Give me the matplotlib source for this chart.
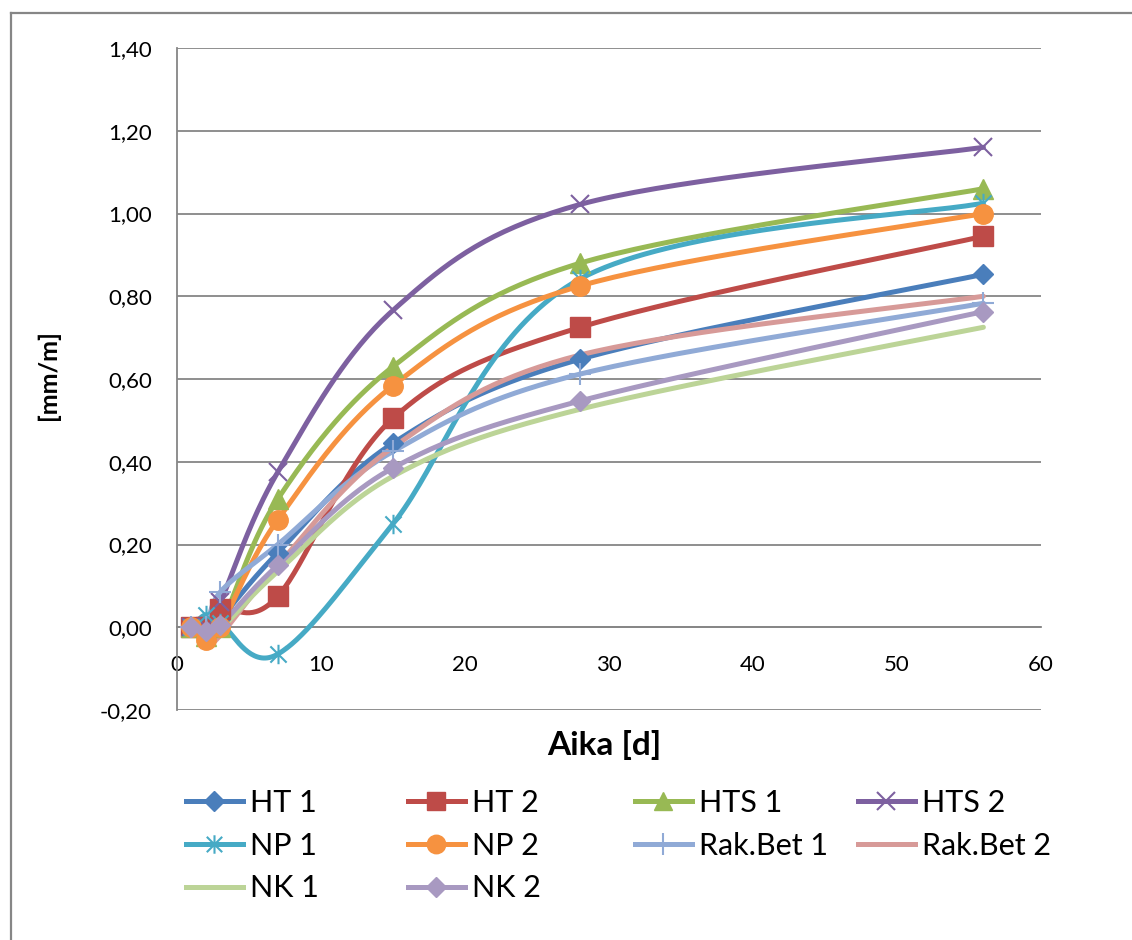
import numpy as np
import matplotlib
matplotlib.use("Agg")
import matplotlib.pyplot as plt
from matplotlib.lines import Line2D
from matplotlib.path import Path

plt.rcParams['font.family'] = ['Lato', 'DejaVu Sans']

# ---- data ----
days = [1, 2, 3, 7, 15, 28, 56]
series_names = ["HT 1", "HT 2", "HTS 1", "HTS 2", "NP 1", "NP 2",
                "Rak.Bet 1", "Rak.Bet 2", "NK 1", "NK 2"]
ht1 = [0.00, -0.01, 0.02, 0.18, 0.445, 0.648, 0.853]
ht2 = [0.00, 0.00, 0.045, 0.075, 0.505, 0.725, 0.945]
hts1 = [0.00, -0.02, 0.00, 0.31, 0.63, 0.88, 1.06]
hts2 = [0.00, 0.00, 0.06, 0.375, 0.766, 1.022, 1.16]
np1 = [0.00, 0.03, 0.01, -0.065, 0.25, 0.842, 1.025]
np2 = [0.00, -0.03, 0.00, 0.26, 0.584, 0.825, 1.00]
rb1 = [0.00, 0.00, 0.085, 0.20, 0.425, 0.612, 0.783]
rb2 = [0.00, -0.04, -0.02, 0.15, 0.435, 0.658, 0.80]
nk1 = [0.00, -0.02, -0.005, 0.135, 0.365, 0.527, 0.725]
nk2 = [0.00, -0.01, 0.005, 0.15, 0.385, 0.547, 0.763]
series_values = [ht1, ht2, hts1, hts2, np1, np2, rb1, rb2, nk1, nk2]

yticks = [-0.2, 0.0, 0.2, 0.4, 0.6, 0.8, 1.0, 1.2, 1.4]
xticks = [0, 10, 20, 30, 40, 50, 60]

# ---- styles ----
colors = ["#4A7EBB", "#BE4B48", "#98B954", "#7D60A0", "#46AAC5", "#F69240",
          "#90AAD6", "#D79A98", "#BCD497", "#A899C1"]
star = Path([(-0.5, -0.5), (0.5, 0.5), (-0.5, 0.5), (0.5, -0.5), (0, -0.6), (0, 0.6)],
            [Path.MOVETO, Path.LINETO, Path.MOVETO, Path.LINETO, Path.MOVETO, Path.LINETO])
markers = [("D", 10.5, 1), ("s", 14, 1), ("^", 14, 1), ("x", 13, 1.5), (star, 14, 1.5),
           ("o", 14, 1), ("+", 16, 1.5), (None, 0, 0), (None, 0, 0), ("D", 10.5, 1)]


def smooth(xs, ys, n=40):
    """Excel-like smoothed line (Catmull-Rom Bezier)."""
    P = np.column_stack([xs, ys]).astype(float)
    out = []
    m = len(P)
    for i in range(m - 1):
        p0 = P[i - 1] if i > 0 else P[i]
        p1, p2 = P[i], P[i + 1]
        p3 = P[i + 2] if i + 2 < m else P[i + 1]
        c1 = p1 + (p2 - p0) / 6.0
        c2 = p2 - (p3 - p1) / 6.0
        t = np.linspace(0, 1, n)[:, None]
        seg = ((1 - t) ** 3) * p1 + 3 * ((1 - t) ** 2) * t * c1 + 3 * (1 - t) * t ** 2 * c2 + t ** 3 * p2
        out.append(seg if i == 0 else seg[1:])
    s = np.vstack(out)
    return s[:, 0], s[:, 1]


W, H = 1132, 940
fig = plt.figure(figsize=(W / 100, H / 100), dpi=100)
ax = fig.add_axes([177 / W, 1 - 710 / H, (1041 - 177) / W, (710 - 48) / H])

grid_c = "#868686"
lw = 3.6
handles = []
for name, vals, c, (mk, ms, mew) in zip(series_names, series_values, colors, markers):
    sx, sy = smooth(days, vals)
    ax.plot(sx, sy, color=c, lw=lw, solid_capstyle='round', zorder=3)
    if mk is not None:
        ax.plot(days, vals, linestyle='none', marker=mk, ms=ms, mew=mew,
                color=c, mfc=c, mec=c, zorder=4)
    h = Line2D([], [], color=c, lw=lw, marker=mk if mk is not None else None,
               ms=ms * 0.95 if mk is not None else 0, mew=mew, mfc=c, mec=c)
    handles.append(h)

ax.set_xlim(0, 60)
ax.set_ylim(-0.2, 1.4)
ax.set_yticks(yticks)
ax.set_yticklabels([f"{v:.2f}".replace(".", ",") for v in yticks])
ax.set_xticks(xticks)
ax.set_xticklabels([str(v) for v in xticks])
ax.yaxis.grid(True, color=grid_c, lw=1.3, zorder=0)
ax.set_axisbelow(True)
for s in ["top", "right"]:
    ax.spines[s].set_visible(False)
ax.spines["left"].set_color(grid_c)
ax.spines["left"].set_linewidth(1.3)
ax.spines["bottom"].set_position(("data", 0))
ax.spines["bottom"].set_color(grid_c)
ax.spines["bottom"].set_linewidth(1.3)
ax.tick_params(axis="both", length=0, labelsize=16, colors="black")
ax.tick_params(axis="y", pad=18)
ax.tick_params(axis="x", pad=20)

fig.text(48 / W, 1 - 375 / H, "[mm/m]", rotation=90, ha="center", va="center",
         fontsize=18, fontweight="bold")
fig.text(604 / W, 1 - 745 / H, "Aika [d]", ha="center", va="center",
         fontsize=24, fontweight="bold")

# legend: 4 columns, rows filled left-to-right like the original
col_x = [186, 408, 635, 858]
ncols = 4
for ci in range(ncols):
    idx = list(range(ci, len(series_names), ncols))
    leg = fig.legend([handles[i] for i in idx], [series_names[i] for i in idx],
                     loc="upper left", bbox_to_anchor=(col_x[ci] / W, 1 - 789 / H),
                     frameon=False, fontsize=22, handlelength=1.85, handletextpad=0.25,
                     labelspacing=0.48, borderpad=0, borderaxespad=0, numpoints=1)

# outer chart frame (left and top edges visible)
fig.add_artist(Line2D([10.5 / W, 10.5 / W], [0, 1 - 13 / H], color=grid_c, lw=1.6,
                      transform=fig.transFigure))
fig.add_artist(Line2D([10.5 / W, 1], [1 - 13 / H, 1 - 13 / H], color=grid_c, lw=1.6,
                      transform=fig.transFigure))

fig.savefig("out.png", dpi=100)
